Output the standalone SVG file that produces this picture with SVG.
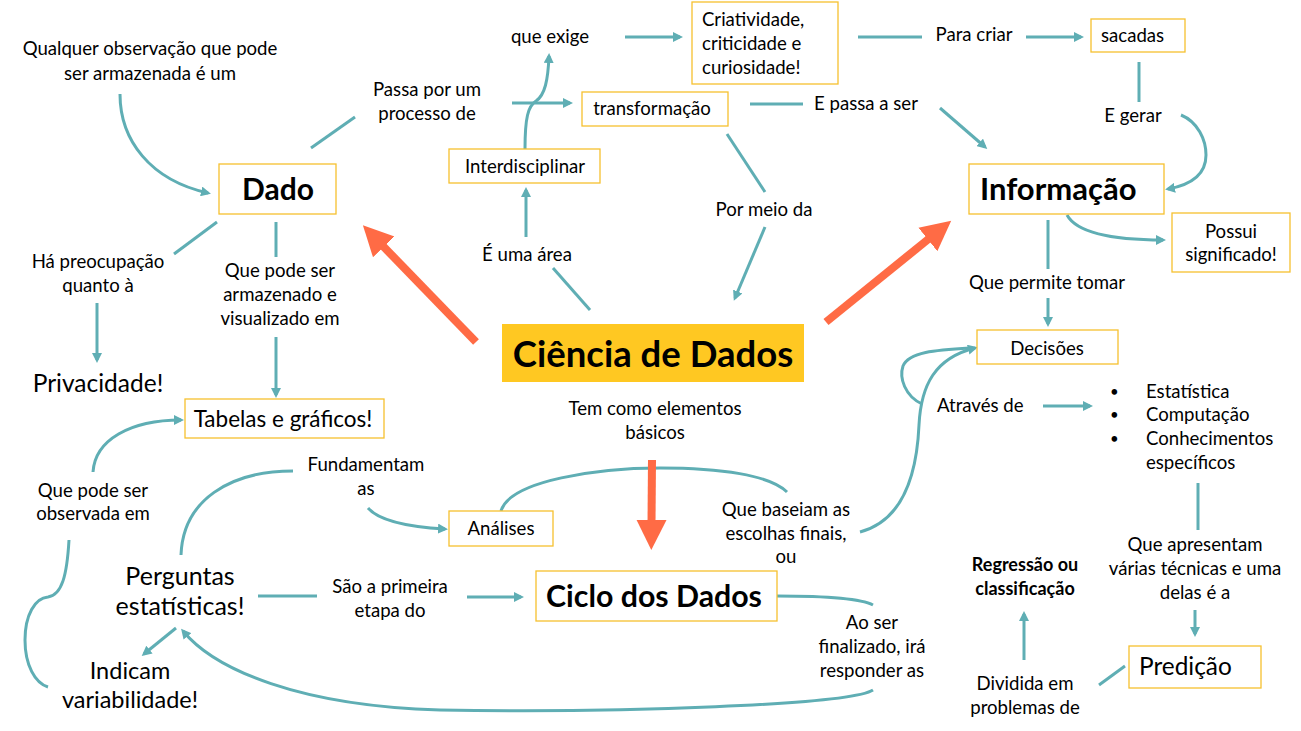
<svg xmlns="http://www.w3.org/2000/svg" width="1301" height="731" viewBox="0 0 1301 731">
<defs>
<marker id="ah" markerWidth="10" markerHeight="10" refX="7" refY="5" orient="auto" markerUnits="userSpaceOnUse"><path d="M0,0 L10,5 L0,10 Z" fill="#5FAEB4"/></marker>
<marker id="oh" markerWidth="34" markerHeight="34" refX="4" refY="17" orient="auto" markerUnits="userSpaceOnUse"><path d="M0,2 L30,17 L0,32 Z" fill="#FF6B45"/></marker>
<style>
text{font-family:Lato,"Open Sans","Liberation Sans",sans-serif;fill:#000}
.l{font-size:18.6px;text-anchor:middle}
.s{font-size:18.6px}
.b{fill:#fff;stroke:#F6C12F;stroke-width:1.3}
.c{fill:none;stroke:#5FAEB4;stroke-width:3}
.a{marker-end:url(#ah)}
.o{fill:none;stroke:#FF6B45;stroke-width:8;marker-end:url(#oh)}
</style>
</defs>
<rect width="1301" height="731" fill="#fff"/>
<g id="connectors">
<path class="c a" d="M120,94 C120,140 150,180 208,193"/>
<path class="c" d="M311,148 L355,117"/>
<path class="c a" d="M512,103 L570,103"/>
<path class="c a" d="M525,149 C525,118 528,106 536,101 C545,95 548,80 549,56"/>
<path class="c a" d="M625,37 L680,37"/>
<path class="c" d="M858,37 L922,37"/>
<path class="c a" d="M1026,37 L1081,37"/>
<path class="c" d="M1139,62 L1139,102"/>
<path class="c a" d="M1181,115 C1198,122 1206,140 1206,155 C1206,175 1190,185 1168,189"/>
<path class="c" d="M750,104 L803,104"/>
<path class="c a" d="M940,108 L985,147"/>
<path class="c" d="M727,134 L765,192"/>
<path class="c a" d="M765,227 L735,298"/>
<path class="c a" d="M526,237 L526,190"/>
<path class="c" d="M590,310 L553,268"/>
<path class="c" d="M217,222 L174,254"/>
<path class="c a" d="M97,303 L97,360"/>
<path class="c" d="M276,222 L276,257"/>
<path class="c a" d="M276,337 L276,395"/>
<path class="c" d="M1048,220 L1048,269"/>
<path class="c a" d="M1048,298 L1048,324"/>
<path class="c a" d="M1067,215 C1078,235 1120,240 1163,240"/>
<path class="c a" d="M1043,406 L1090,406"/>
<path class="c a" d="M860,532 C905,520 917,470 919,425 C921,385 935,358 975,348"/>
<path class="c" d="M922,404 C905,396 899,378 903,366 C909,352 935,350 970,348"/>
<path class="c" d="M1198,483 L1198,530"/>
<path class="c a" d="M1195,610 L1195,634"/>
<path class="c" d="M1125,666 L1099,685"/>
<path class="c a" d="M1024,660 L1024,614"/>
<path class="c" d="M501,511 C510,480 600,468 660,468 C720,468 770,475 787,492"/>
<path class="c a" d="M368,508 C380,522 410,527 445,529"/>
<path class="c" d="M181,555 C183,500 230,471 293,471"/>
<path class="c a" d="M93,472 C95,440 130,420 181,420"/>
<path class="c" d="M69,540 C67,575 62,595 48,597 C35,598 25,615 25,640 C25,665 35,683 48,687"/>
<path class="c" d="M258,596 L317,596"/>
<path class="c a" d="M467,597 L521,597"/>
<path class="c" d="M777,596 C820,596 860,598 873,605"/>
<path class="c a" d="M873,690 C850,705 620,713 440,710 C300,706 215,670 183,631"/>
<path class="c a" d="M176,628 L144,654"/>
<path class="o" d="M476,342 L381,244"/>
<path class="o" d="M826,322 L931,237"/>
<path class="o" d="M652,460 L651.5,524"/>
</g>
<g id="dado"><rect class="b" x="219" y="164" width="117" height="50"/><text x="278" y="200" font-size="30" font-weight="bold" text-anchor="middle">Dado</text></g>
<g id="informacao"><rect class="b" x="969" y="164" width="195" height="50"/><text x="980" y="200" font-size="31" font-weight="bold">Informação</text></g>
<g id="ciencia"><rect x="502" y="324" width="302" height="58" fill="#FFC822"/><text x="653" y="367" font-size="36.5" font-weight="bold" text-anchor="middle">Ciência de Dados</text></g>
<g id="ciclo"><rect class="b" x="536" y="571" width="241" height="50"/><text x="654" y="607" font-size="30.3" font-weight="bold" text-anchor="middle">Ciclo dos Dados</text></g>
<g id="tabelas"><rect class="b" x="185" y="399" width="199" height="39"/><text x="283" y="427" font-size="22.5" text-anchor="middle">Tabelas e gráficos!</text></g>
<g id="interdisciplinar"><rect class="b" x="449" y="149" width="151" height="34"/><text x="525" y="173" class="l">Interdisciplinar</text></g>
<g id="transformacao"><rect class="b" x="582" y="92" width="146" height="34"/><text x="652" y="115" class="l">transformação</text></g>
<g id="criatividade"><rect class="b" x="692" y="2" width="146" height="82"/><text x="702" y="26" class="s">Criatividade,</text><text x="702" y="50" class="s">criticidade e</text><text x="702" y="74" class="s">curiosidade!</text></g>
<g id="sacadas"><rect class="b" x="1091" y="19" width="94" height="33"/><text x="1101" y="42" class="s">sacadas</text></g>
<g id="possui"><rect class="b" x="1172" y="213" width="118" height="59"/><text x="1231" y="238" class="l">Possui</text><text x="1231" y="261" class="l">significado!</text></g>
<g id="decisoes"><rect class="b" x="977" y="330" width="141" height="34"/><text x="1047" y="355" class="l">Decisões</text></g>
<g id="analises"><rect class="b" x="449" y="511" width="104" height="35"/><text x="501" y="535" class="l">Análises</text></g>
<g id="predicao"><rect class="b" x="1129" y="646" width="132" height="42"/><text x="1139" y="675" font-size="24.4">Predição</text></g>
<g id="labels">
<text class="l" x="150" y="55">Qualquer observação que pode</text><text class="l" x="150" y="80">ser armazenada é um</text>
<text class="l" x="427" y="96">Passa por um</text><text class="l" x="427" y="120">processo de</text>
<text class="l" x="550" y="43">que exige</text>
<text class="l" x="974" y="41">Para criar</text>
<text class="l" x="866" y="110">E passa a ser</text>
<text class="l" x="1133" y="122">E gerar</text>
<text class="l" x="764" y="216">Por meio da</text>
<text class="l" x="527" y="261">É uma área</text>
<text class="l" x="98" y="268">Há preocupação</text><text class="l" x="98" y="292">quanto à</text>
<text class="l" x="280" y="277">Que pode ser</text><text class="l" x="280" y="301">armazenado e</text><text class="l" x="280" y="325">visualizado em</text>
<text x="98" y="392" font-size="24.5" text-anchor="middle">Privacidade!</text>
<text class="l" x="655" y="415">Tem como elementos</text><text class="l" x="655" y="439">básicos</text>
<text class="l" x="1047" y="289">Que permite tomar</text>
<text x="937" y="412" class="s">Através de</text>
<g font-size="15"><text x="1110" y="397">•</text><text x="1110" y="420">•</text><text x="1110" y="444">•</text></g>
<g class="s"><text x="1146" y="398">Estatística</text><text x="1146" y="421">Computação</text><text x="1146" y="445">Conhecimentos</text><text x="1146" y="469">específicos</text></g>
<text class="l" x="366" y="471">Fundamentam</text><text class="l" x="366" y="495">as</text>
<text class="l" x="93" y="497">Que pode ser</text><text class="l" x="93" y="520">observada em</text>
<text class="l" x="786" y="516">Que baseiam as</text><text class="l" x="786" y="540">escolhas finais,</text><text class="l" x="786" y="563">ou</text>
<text x="180" y="585" font-size="25" text-anchor="middle">Perguntas</text><text x="180" y="615" font-size="25" text-anchor="middle">estatísticas!</text>
<text class="l" x="390" y="593">São a primeira</text><text class="l" x="390" y="617">etapa do</text>
<text class="l" x="872" y="629">Ao ser</text><text class="l" x="872" y="653">finalizado, irá</text><text class="l" x="872" y="677">responder as</text>
<text x="130" y="679" font-size="23.5" text-anchor="middle">Indicam</text><text x="130" y="708" font-size="23.5" text-anchor="middle">variabilidade!</text>
<text x="1025" y="571" font-size="18" font-weight="bold" text-anchor="middle">Regressão ou</text><text x="1025" y="595" font-size="18" font-weight="bold" text-anchor="middle">classificação</text>
<text class="l" x="1025" y="690">Dividida em</text><text class="l" x="1025" y="714">problemas de</text>
<text class="l" x="1195" y="551">Que apresentam</text><text class="l" x="1195" y="575">várias técnicas e uma</text><text class="l" x="1195" y="599">delas é a</text>
</g>
</svg>
